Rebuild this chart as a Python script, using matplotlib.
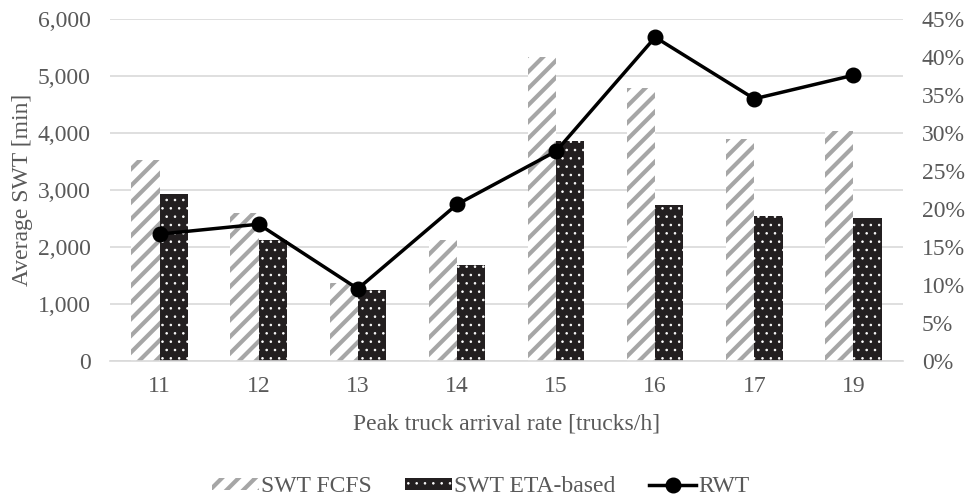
import matplotlib.pyplot as plt
from matplotlib.ticker import FuncFormatter, PercentFormatter
import numpy as np

plt.rcParams['font.family'] = ['Liberation Serif', 'DejaVu Serif']

# peak truck arrival rate categories
rates = ["11", "12", "13", "14", "15", "16", "17", "19"]
# average service waiting time [min]
swt_fcfs = [3520, 2600, 1370, 2120, 5330, 4790, 3890, 4030]
swt_eta = [2930, 2120, 1245, 1680, 3860, 2740, 2540, 2500]
# reduction in waiting time [%]
rwt = [16.7, 18.0, 9.5, 20.6, 27.6, 42.6, 34.5, 37.6]

grey_text = "#595959"
fs = 17
x = np.arange(len(rates))
w = 0.285

fig = plt.figure(figsize=(9.71, 5.0), dpi=100)
ax = fig.add_axes([110 / 971, 1 - 361 / 500, 793 / 971, 342 / 500])
ax2 = ax.twinx()

# thick grey stripes for FCFS, fine white dots for ETA-based
plt.rcParams['hatch.linewidth'] = 3.0
b1 = ax.bar(x - w / 2, swt_fcfs, w, color="white", edgecolor="#a6a6a6",
            hatch="//", linewidth=0, label="SWT FCFS", zorder=2)
plt.rcParams['hatch.linewidth'] = 0.6
b2 = ax.bar(x + w / 2, swt_eta, w, color="#231f20", edgecolor="white",
            hatch="..", linewidth=0, label="SWT ETA-based", zorder=2)
ln, = ax2.plot(x, rwt, color="black", lw=2.5, marker="o", ms=10.5,
               label="RWT", zorder=3)

ax.set_xlim(-0.5, len(rates) - 0.5)
ax.set_ylim(0, 6000)
ax.set_yticks(np.arange(0, 6001, 1000))
ax.yaxis.set_major_formatter(FuncFormatter(lambda v, p: f"{int(v):,}"))
ax2.set_ylim(0, 45)
ax2.set_yticks(np.arange(0, 46, 5))
ax2.yaxis.set_major_formatter(PercentFormatter(decimals=0))

ax.set_xticks(x)
ax.set_xticklabels(rates)
ax.grid(axis="y", color="#d9d9d9", lw=1.2, zorder=0)
ax.set_axisbelow(True)

for a in (ax, ax2):
    for s in a.spines.values():
        s.set_visible(False)
    a.tick_params(length=0, labelsize=fs, labelcolor=grey_text)
ax.spines["bottom"].set_visible(True)
ax.spines["bottom"].set_color("#d9d9d9")
ax.spines["bottom"].set_linewidth(1.2)
ax.tick_params(axis="y", pad=14)
ax.tick_params(axis="x", pad=11)
ax2.tick_params(axis="y", pad=13.5)

ax.set_ylabel("Average SWT [min]", fontsize=fs, color=grey_text, labelpad=3)
ax.set_xlabel("Peak truck arrival rate [trucks/h]", fontsize=fs,
              color=grey_text, labelpad=12)

leg = fig.legend(handles=[b1, b2, ln], loc="center",
                 bbox_to_anchor=(0.495, 0.026), ncol=3, frameon=False,
                 fontsize=fs, labelcolor=grey_text, handlelength=2.0,
                 handleheight=0.4, handletextpad=0.1, columnspacing=1.4)
leg.get_patches()[0].set_hatch_linewidth(3.0)

fig.savefig("out.png", dpi=100)
